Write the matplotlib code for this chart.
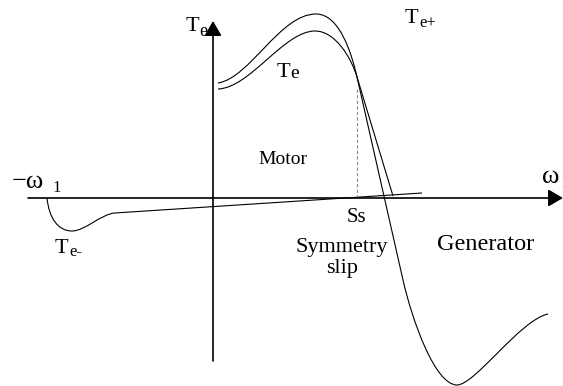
import matplotlib
matplotlib.use('Agg')

import matplotlib.pyplot as plt
from matplotlib.path import Path
from matplotlib.patches import PathPatch

plt.rcParams['font.family'] = ['Liberation Serif', 'DejaVu Serif']

# Torque-speed curves as cubic Bezier control points (omega, torque)
te_plus_x = [0.05, 0.37, 0.67, 1.03, 1.27, 1.39, 1.44, 1.90,
             1.99, 2.22, 2.44, 2.62, 3.07, 3.35]
te_plus_y = [1.15, 1.20, 1.84, 1.84, 1.84, 1.43, 1.21, -0.82,
             -1.22, -1.87, -1.87, -1.87, -1.22, -1.16]
te_plus_codes = [Path.MOVETO, Path.CURVE4, Path.CURVE4, Path.CURVE4,
                 Path.CURVE4, Path.CURVE4, Path.CURVE4, Path.LINETO,
                 Path.CURVE4, Path.CURVE4, Path.CURVE4,
                 Path.CURVE4, Path.CURVE4, Path.CURVE4]

te_x = [0.05, 0.37, 0.71, 1.02, 1.22, 1.38, 1.44, 1.80]
te_y = [1.09, 1.10, 1.67, 1.67, 1.67, 1.41, 1.21, 0.02]
te_codes = [Path.MOVETO, Path.CURVE4, Path.CURVE4, Path.CURVE4,
            Path.CURVE4, Path.CURVE4, Path.CURVE4, Path.LINETO]

te_minus_x = [-1.66, -1.64, -1.55, -1.41, -1.28, -1.12, -0.98, 2.09]
te_minus_y = [0.00, -0.20, -0.33, -0.33, -0.33, -0.16, -0.15, 0.05]
te_minus_codes = [Path.MOVETO, Path.CURVE4, Path.CURVE4, Path.CURVE4,
                  Path.CURVE4, Path.CURVE4, Path.CURVE4, Path.LINETO]

# Symmetry slip marker
slip_x = 1.44
slip_top = 1.10

# Axis extents
omega_min, omega_max = -1.85, 3.50
torque_min, torque_max = -1.63, 1.77

fig = plt.figure(figsize=(5.63, 3.86), dpi=100)
ax = fig.add_axes([0, 0, 1, 1])
ax.set_xlim(-2.13, 3.50)
ax.set_ylim(-1.88, 1.98)
ax.axis('off')

arrow = dict(arrowstyle='-|>,head_length=0.6,head_width=0.35',
             mutation_scale=15, lw=1.2, color='black',
             shrinkA=0, shrinkB=0)
ax.annotate('', xy=(omega_max, 0), xytext=(omega_min, 0), arrowprops=arrow)
ax.annotate('', xy=(0, torque_max), xytext=(0, torque_min), arrowprops=arrow)

for xs, ys, codes in [(te_plus_x, te_plus_y, te_plus_codes),
                      (te_x, te_y, te_codes),
                      (te_minus_x, te_minus_y, te_minus_codes)]:
    path = Path(list(zip(xs, ys)), codes)
    ax.add_patch(PathPatch(path, facecolor='none', edgecolor='black',
                           lw=0.8))

ax.plot([slip_x, slip_x], [0, slip_top], color='#888888', lw=0.8,
        linestyle=(0, (3, 2)))

# Labels
ax.text(-0.27, 1.67, 'T', fontsize=16)
ax.text(-0.14, 1.62, 'e', fontsize=13)
ax.text(1.92, 1.75, 'T', fontsize=16)
ax.text(2.06, 1.71, 'e+', fontsize=12)
ax.text(0.64, 1.21, 'T', fontsize=16)
ax.text(0.77, 1.20, 'e', fontsize=14)
ax.text(-1.58, -0.55, 'T', fontsize=16)
ax.text(-1.44, -0.58, 'e-', fontsize=12)
ax.text(-2.01, 0.10, '\u2212\u03c9', fontsize=19)
ax.text(-1.61, 0.06, '1', fontsize=12)
ax.text(3.29, 0.15, '\u03c9', fontsize=19)
ax.text(3.47, 0.11, '1', fontsize=12)
ax.text(0.45, 0.34, 'Motor', fontsize=14)
ax.text(1.34, -0.24, 'Ss', fontsize=15)
ax.text(1.29, -0.54, 'Symmetry', fontsize=16, ha='center')
ax.text(1.29, -0.75, 'slip', fontsize=16, ha='center')
ax.text(2.24, -0.52, 'Generator', fontsize=17.5)

fig.savefig('out.png', dpi=100)
plt.close(fig)
